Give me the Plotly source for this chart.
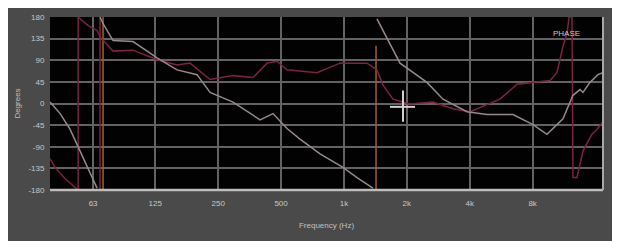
import plotly.graph_objects as go

# ---- data (frequency in Hz, phase in degrees) ----
grey_freq = [39.2, 43.8, 48.9, 54.6, 60.9, 65.8, None,
             68.0, 70.3, 78.5, 97.8, 127.5, 158.9, 198.1, 228.6, 294.5, 343.7, 396.6, 457.7,
             534.0, 616.2, 768.3, 989.8, 1155, 1377, None,
             1439, 1855, 2497, 2979, 3882, 4837, 6444, 8032, 9373, 11180, 12481, 13485,
             13940, 15053, 16440, 17370]
grey_phase = [3, -21, -54, -99, -143, -176, None,
              180, 166, 131, 129, 95, 70, 60, 23, 3, -17, -34, -21,
              -52, -74, -105, -133, -154, -176, None,
              176, 84, 44, 9, -17, -23, -23, -44, -64, -32, 17, 29,
              23, 44, 60, 64]

red_freq = [39.2, 41.4, 46.2, 52.8, 53.4, 53.4, 59.6, 65.8, 68.0, 78.5, 97.8, 127.5,
            158.9, 183.4, 228.6, 294.5, 367.2, 428.3, 478.3, 534.0, 616.2, 743.2, 957.7,
            1289, 1439, 1538, 1717, 2071, 2668, 3327, 4012, 4837, 5582, 6735, 8393, 9686,
            10462, 11180, 11686, 11948, 12348, 12481, 13046, 13940, 15390, 16260, 17370]
red_phase = [-115, -133, -156, -180, -180, 180, 162, 152, 139, 109, 111, 91,
             80, 84, 50, 58, 54, 84, 88, 70, 68, 64, 84,
             84, 70, 38, 9, -1, 3, -11, -17, -3, 9, 40, 44, 48,
             64, 119, 145, 180, 180, -154, -154, -99, -64, -54, -38]

# vertical wrap / marker lines
red_marker_freq = [68.0]
orange_marker_freq = [70.3, 1424]
orange_marker_top = [180, 120]

# cursor
cursor_freq = 1917
cursor_phase = -7
cursor_span_freq = [1662, 2188]
cursor_span_phase = [27, -38]

x_tickvals = [63, 125, 250, 500, 1000, 2000, 4000, 8000]
x_ticktext = ["63", "125", "250", "500", "1k", "2k", "4k", "8k"]
y_tickvals = [-180, -135, -90, -45, 0, 45, 90, 135, 180]
y_ticktext = ["-180", "-135", "-90", "-45", "0", "45", "90", "135", "180"]

GREY = "#958890"
RED = "#7e2242"
ORANGE = "#a0602a"

fig = go.Figure()

# orange marker lines
ox, oy = [], []
for f, top in zip(orange_marker_freq, orange_marker_top):
    ox += [f, f, None]
    oy += [-180, top, None]
fig.add_trace(go.Scatter(x=ox, y=oy, mode="lines", line=dict(color=ORANGE, width=1.5),
                         hoverinfo="skip", showlegend=False))
rx, ry = [], []
for f in red_marker_freq:
    rx += [f, f, None]
    ry += [-180, 180, None]
fig.add_trace(go.Scatter(x=rx, y=ry, mode="lines", line=dict(color=RED, width=1.5),
                         hoverinfo="skip", showlegend=False))

fig.add_trace(go.Scatter(x=red_freq, y=red_phase, mode="lines",
                         line=dict(color=RED, width=1.5), showlegend=False))
fig.add_trace(go.Scatter(x=grey_freq, y=grey_phase, mode="lines",
                         line=dict(color=GREY, width=1.5), showlegend=False))

# cursor crosshair
fig.add_trace(go.Scatter(x=[cursor_span_freq[0], cursor_span_freq[1], None, cursor_freq, cursor_freq],
                         y=[cursor_phase, cursor_phase, None, cursor_span_phase[0], cursor_span_phase[1]],
                         mode="lines", line=dict(color="#d0d0d0", width=2),
                         hoverinfo="skip", showlegend=False))

fig.update_layout(
    width=609, height=241,
    margin=dict(l=42, r=14, t=5, b=59),
    paper_bgcolor="#4a4a4a",
    plot_bgcolor="#020202",
    font=dict(family="Liberation Sans, Arial, sans-serif", size=8, color="#c8c8c8"),
    xaxis=dict(type="log", range=[1.593, 4.240], tickvals=x_tickvals, ticktext=x_ticktext,
               showgrid=True, gridcolor="#626262", gridwidth=1.5, zeroline=False,
               ticks="outside", ticklen=5, tickcolor="rgba(0,0,0,0)",
               title=dict(text="Frequency (Hz)", font=dict(size=8, color="#c0c0c0"), standoff=15),
               fixedrange=True),
    yaxis=dict(range=[-180, 180], tickvals=y_tickvals, ticktext=y_ticktext,
               showgrid=True, gridcolor="#626262", gridwidth=1.5, zeroline=False,
               ticks="outside", ticklen=3, tickcolor="rgba(0,0,0,0)",
               title=dict(text="Degrees", font=dict(size=8, color="#c0c0c0"), standoff=6),
               fixedrange=True),
    shapes=[
        dict(type="line", xref="paper", yref="paper", x0=0, x1=1, y0=0, y1=0,
             line=dict(color="#bdbdbd", width=2.5)),
        dict(type="line", xref="paper", yref="paper", x0=1, x1=1, y0=0, y1=1,
             line=dict(color="#a8a8a8", width=2)),
    ],
    annotations=[
        dict(text="PHASE", xref="paper", yref="paper", x=0.962, y=0.943, showarrow=False,
             font=dict(size=8, color="#c8c8c8")),
    ],
)

fig.write_html("out.html")
